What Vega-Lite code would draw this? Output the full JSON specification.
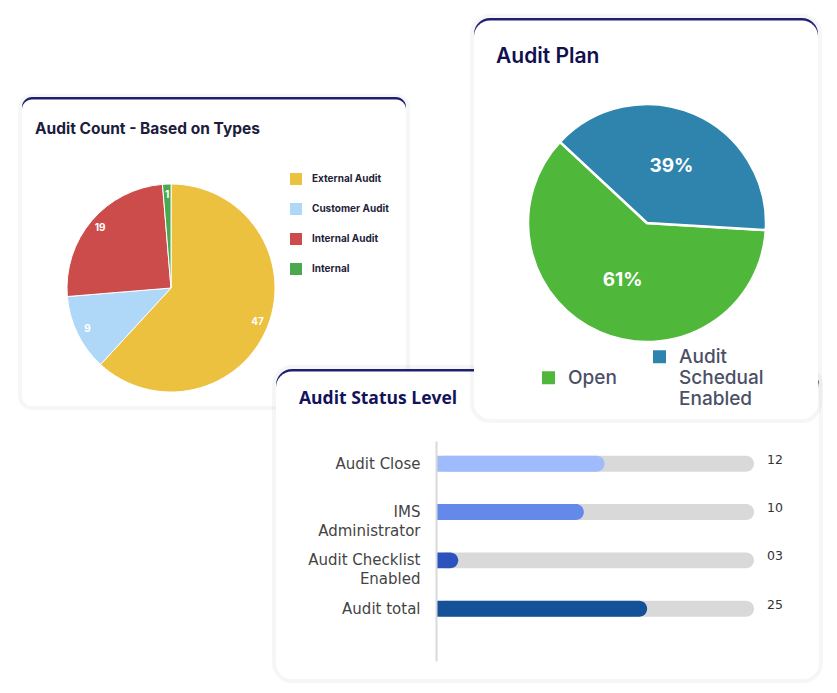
{
  "$schema": "https://vega.github.io/schema/vega-lite/v6.json",
  "width": 837,
  "height": 693,
  "autosize": {"type": "fit", "contains": "padding"},
  "padding": 0,
  "background": "#ffffff",
  "config": {"view": {"stroke": null}, "font": "Inter"},
  "datasets": {
    "auditTypes": [
      {"type": "External Audit", "count": 47},
      {"type": "Customer Audit", "count": 9},
      {"type": "Internal Audit", "count": 19},
      {"type": "Internal", "count": 1}
    ],
    "auditPlan": [
      {"status": "Open", "share": 61, "label": "61%"},
      {"status": "Audit Schedual Enabled", "share": 39, "label": "39%"}
    ],
    "statusLevel": [
      {"status": "Audit Close", "progress": 53, "value": "12"},
      {"status": "IMS Administrator", "progress": 46.5, "value": "10"},
      {"status": "Audit Checklist Enabled", "progress": 7, "value": "03"},
      {"status": "Audit total", "progress": 66.4, "value": "25"}
    ]
  },
  "resolve": {
    "scale": {"x": "independent", "y": "independent", "theta": "independent", "color": "independent"},
    "legend": {"color": "independent"},
    "axis": {"x": "independent", "y": "independent"}
  },
  "layer": [
    {"data": {"values": [{}]}, "mark": {"type": "rect", "x": 21, "x2": 405, "y": 97, "y2": 405, "cornerRadius": 10, "fill": "#ffffff", "stroke": "#000000", "strokeOpacity": 0.035, "strokeWidth": 8}},
    {"data": {"values": [{}]}, "mark": {"type": "rect", "x": 21, "x2": 405, "y": 96, "y2": 140, "cornerRadius": 10, "fill": "#1f2170"}},
    {"data": {"values": [{}]}, "mark": {"type": "rect", "x": 21, "x2": 405, "y": 98.5, "y2": 405, "cornerRadius": 10, "fill": "#ffffff"}},
    {"data": {"values": [{}]}, "mark": {"type": "rule", "x": 30, "x2": 395, "y": 147, "y2": 147, "stroke": "#eeeeee", "strokeWidth": 1}, "encoding": {}},
    {"data": {"values": [{"t": "Audit Count - Based on Types"}]}, "mark": {"type": "text", "x": 34, "y": 133, "align": "left", "baseline": "alphabetic", "fontSize": 15.5, "fontWeight": "bold", "font": "Inter", "fill": "#1c1c3c"}, "encoding": {"text": {"field": "t"}}},
    {
      "data": {"name": "auditTypes"},
      "encoding": {
        "theta": {"field": "count", "type": "quantitative", "stack": true, "scale": {"range": [4.6303, 10.9135]}},
        "order": {"field": "type", "sort": "descending"}
      },
      "layer": [
        {
          "mark": {"type": "arc", "x": 170, "y": 287, "outerRadius": 104, "stroke": "#ffffff", "strokeWidth": 1},
          "encoding": {
            "color": {
              "field": "type", "type": "nominal",
              "scale": {"domain": ["External Audit", "Customer Audit", "Internal Audit", "Internal"], "range": ["#ecc140", "#afd7f7", "#cc4c4c", "#4aa84f"]},
              "legend": {"orient": "none", "legendX": 289, "legendY": 172, "title": null, "symbolType": "square", "symbolSize": 144, "symbolStrokeWidth": 0, "symbolOpacity": 1, "labelFontSize": 10, "labelFont": "Inter", "labelFontWeight": "bold", "labelColor": "#1f1f3a", "rowPadding": 18, "labelOffset": 10, "padding": 0}
            }
          }
        },
        {
          "mark": {"type": "text", "x": 170, "y": 287, "radius": 93, "fontSize": 10, "fontWeight": "bold", "font": "Inter"},
          "encoding": {
            "detail": {"field": "type"},
            "color": {"value": "#ffffff"},
            "text": {"field": "count", "type": "quantitative"}
          }
        }
      ]
    },
    {"data": {"values": [{}]}, "mark": {"type": "rect", "x": 275, "x2": 818, "y": 368, "y2": 678, "cornerRadius": 16, "fill": "#ffffff", "stroke": "#000000", "strokeOpacity": 0.035, "strokeWidth": 8}},
    {"data": {"values": [{}]}, "mark": {"type": "rect", "x": 275, "x2": 818, "y": 368, "y2": 420, "cornerRadius": 16, "fill": "#1f2170"}},
    {"data": {"values": [{}]}, "mark": {"type": "rect", "x": 275, "x2": 818, "y": 370.5, "y2": 678, "cornerRadius": 16, "fill": "#ffffff"}},
    {"data": {"values": [{"t": "Audit Status Level"}]}, "mark": {"type": "text", "x": 298, "y": 403, "align": "left", "baseline": "alphabetic", "fontSize": 17.5, "fontWeight": "bold", "font": "Open Sans", "fill": "#13135b"}, "encoding": {"text": {"field": "t"}}},
    {
      "data": {"name": "statusLevel"},
      "encoding": {
        "y": {
          "field": "status", "type": "nominal", "sort": null,
          "scale": {"domain": ["Audit Close", "IMS Administrator", "Audit Checklist Enabled", "Audit total"], "range": [440, 660], "paddingInner": 0.669, "paddingOuter": 0.612, "align": 0.25},
          "axis": {"title": null, "orient": "left", "offset": -435, "zindex": 1, "grid": false, "domainColor": "#d9d9d9", "domainWidth": 2, "ticks": false, "labelPadding": 16, "labelFontSize": 15, "labelFont": "DejaVu Sans", "labelColor": "#444444", "labelLineHeight": 19, "labelLimit": 0,
            "labelExpr": "datum.value == 'IMS Administrator' ? ['IMS', 'Administrator'] : datum.value == 'Audit Checklist Enabled' ? ['Audit Checklist', 'Enabled'] : datum.label"}
        }
      },
      "layer": [
        {
          "mark": {"type": "bar", "cornerRadiusEnd": 8, "color": "#d9d9d9"},
          "encoding": {
            "x": {"datum": 0, "type": "quantitative", "scale": {"domain": [0, 100], "range": [435, 753]}, "axis": null},
            "x2": {"datum": 100}
          }
        },
        {
          "mark": {"type": "bar", "cornerRadiusEnd": 8},
          "encoding": {
            "x": {"field": "progress", "type": "quantitative", "stack": null},
            "color": {"field": "status", "type": "nominal", "scale": {"domain": ["Audit Close", "IMS Administrator", "Audit Checklist Enabled", "Audit total"], "range": ["#a0bbfc", "#6389ea", "#2b52bd", "#145199"]}, "legend": null}
          }
        },
        {
          "mark": {"type": "text", "align": "right", "dx": 29, "dy": -4, "fontSize": 12.5, "font": "DejaVu Sans", "fill": "#333333"},
          "encoding": {
            "x": {"datum": 100, "type": "quantitative"},
            "text": {"field": "value"}
          }
        }
      ]
    },
    {"data": {"values": [{}]}, "mark": {"type": "rect", "x": 473, "x2": 817, "y": 17, "y2": 418, "cornerRadius": 16, "fill": "#ffffff", "stroke": "#000000", "strokeOpacity": 0.035, "strokeWidth": 8}},
    {"data": {"values": [{}]}, "mark": {"type": "rect", "x": 473, "x2": 817, "y": 17, "y2": 70, "cornerRadius": 16, "fill": "#1f2170"}},
    {"data": {"values": [{}]}, "mark": {"type": "rect", "x": 473, "x2": 817, "y": 19.5, "y2": 418, "cornerRadius": 16, "fill": "#ffffff"}},
    {"data": {"values": [{}]}, "mark": {"type": "rule", "x": 473, "x2": 817, "y": 83, "y2": 83, "stroke": "#e6e6e6", "strokeWidth": 2}, "encoding": {}},
    {"data": {"values": [{"t": "Audit Plan"}]}, "mark": {"type": "text", "x": 495, "y": 62, "align": "left", "baseline": "alphabetic", "fontSize": 21, "fontWeight": 600, "font": "Inter", "fill": "#10104f"}, "encoding": {"text": {"field": "t"}}},
    {
      "data": {"name": "auditPlan"},
      "encoding": {
        "theta": {"field": "share", "type": "quantitative", "stack": true, "scale": {"range": [-0.8203, 5.4629]}},
        "order": {"field": "status", "sort": "ascending"}
      },
      "layer": [
        {
          "mark": {"type": "arc", "x": 646, "y": 222, "outerRadius": 119, "stroke": "#ffffff", "strokeWidth": 2.5},
          "encoding": {
            "color": {
              "field": "status", "type": "nominal",
              "scale": {"domain": ["Open", "Audit Schedual Enabled"], "range": ["#4fb83a", "#2f84ad"]},
              "legend": {"orient": "none", "legendX": 538, "legendY": 346, "direction": "horizontal", "title": null, "symbolType": "square", "symbolSize": 169, "symbolStrokeWidth": 0, "symbolOpacity": 1, "labelFontSize": 19, "labelFont": "Inter", "labelFontWeight": 500, "labelColor": "#4b5066", "labelOffset": 10, "columnPadding": 33, "labelLimit": 0, "padding": 0,
                "labelExpr": "datum.label == 'Audit Schedual Enabled' ? ['Audit', 'Schedual', 'Enabled'] : datum.label"}
            }
          }
        },
        {
          "mark": {"type": "text", "x": 646, "y": 222, "radius": 62, "fontSize": 19, "fontWeight": "bold", "font": "Inter"},
          "encoding": {
            "detail": {"field": "status"},
            "color": {"value": "#ffffff"},
            "text": {"field": "label"}
          }
        }
      ]
    }
  ]
}
